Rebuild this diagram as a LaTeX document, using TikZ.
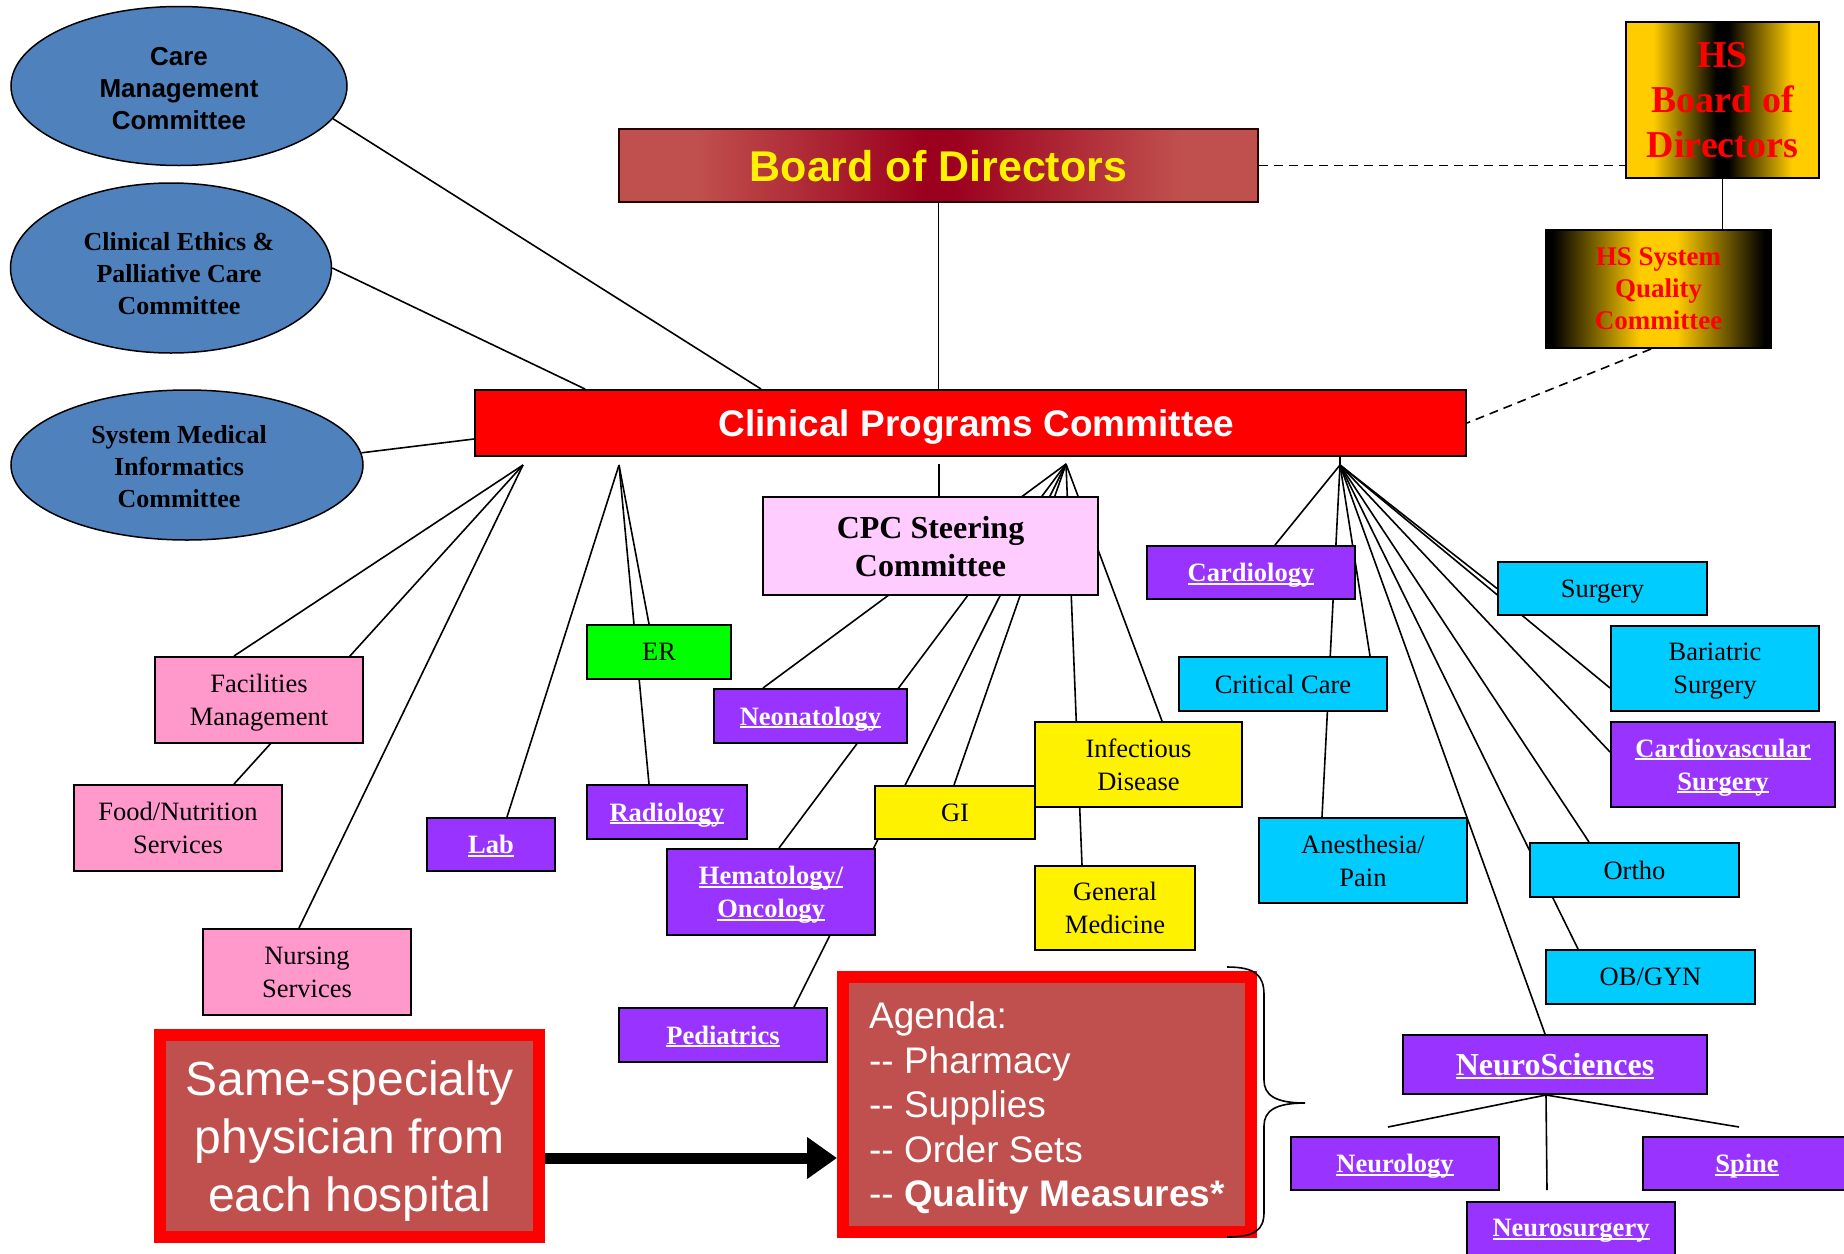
\documentclass[tikz,border=0pt]{standalone}
\usepackage{fontspec}
\setmainfont{Liberation Serif}
\newfontfamily\arialf{Liberation Sans}
\usetikzlibrary{arrows.meta,shapes.geometric,calc}
\pgfdeclarelayer{bg}
\pgfsetlayers{bg,main}
\definecolor{boardside}{HTML}{C0504D}
\definecolor{boardmid}{RGB}{155,0,30}
\definecolor{gold}{HTML}{FFCC00}
\definecolor{purp}{HTML}{9933FF}
\definecolor{cyanc}{HTML}{00CCFF}
\definecolor{pinkc}{HTML}{FF99CC}
\definecolor{stpink}{HTML}{FFCCFF}
\definecolor{ellblue}{HTML}{4F81BD}
\definecolor{agred}{HTML}{C0504D}
\definecolor{ergreen}{HTML}{00FF00}
\pgfdeclarehorizontalshading{boardshade}{100bp}{color(0bp)=(boardside); color(31bp)=(boardside); color(49bp)=(boardmid); color(51bp)=(boardmid); color(69bp)=(boardside); color(100bp)=(boardside)}
\pgfdeclarehorizontalshading{hsbshade}{100bp}{color(0bp)=(gold); color(32bp)=(gold); color(48.5bp)=(black); color(51.5bp)=(black); color(68bp)=(gold); color(100bp)=(gold)}
\pgfdeclarehorizontalshading{hsqshade}{100bp}{color(0bp)=(black); color(26.5bp)=(black); color(46bp)=(gold); color(54bp)=(gold); color(73.5bp)=(black); color(100bp)=(black)}
\newcommand{\myul}[1]{\setbox0\hbox{#1}\rlap{\rule[-3pt]{\wd0}{1.8pt}}\box0}
\begin{document}
\begin{tikzpicture}[x=1pt,y=-1pt,
  box/.style={draw=black, line width=2pt, inner sep=0pt, align=center, font=\fontsize{26.5}{33}\selectfont},
  purplebox/.style={box, fill=purp, text=white, font=\bfseries\fontsize{26.5}{33}\selectfont},
  cyanbox/.style={box, fill=cyanc},
  pinkbox/.style={box, fill=pinkc},
  yellowbox/.style={box, fill=yellow},
  link/.style={line width=1.6pt},
  dashlink/.style={line width=1.6pt, dash pattern=on 9pt off 6pt},
  ell/.style={ellipse, draw=black, line width=1.5pt, fill=ellblue, inner sep=0pt},
  elltext/.style={inner sep=0pt, align=center, font=\bfseries\fontsize{26}{32}\selectfont}]
\useasboundingbox (0,0) rectangle (1844,1253);

% ellipses
\node[ell, minimum width=336pt, minimum height=159pt] (care) at (179,86) {};
\node[elltext, font=\arialf\bfseries\fontsize{26}{32}\selectfont] (careT) at ([yshift=-2.4pt]care.center) {Care\\Management\\Committee};
\node[ell, minimum width=321pt, minimum height=170pt] (ethics) at (171,268) {};
\node[elltext] (ethicsT) at ([xshift=8pt,yshift=-6pt]ethics.center) {Clinical Ethics \&\\Palliative Care\\Committee};
\node[ell, minimum width=352pt, minimum height=150pt] (smi) at (187,465) {};
\node[elltext] (smiT) at ([xshift=-8pt,yshift=-1.2pt]smi.center) {System Medical\\Informatics\\Committee};

% top boxes
\node[draw=black!85!red, line width=1.5pt, inner sep=0pt, minimum width=639pt, minimum height=73pt, text=yellow, font=\arialf\bfseries\fontsize{43}{50}\selectfont, shading=boardshade, text depth=-5pt] (board) at (938.5,165.5) {Board of Directors};
\node[draw=black, line width=2pt, inner sep=0pt, align=center, minimum width=193pt, minimum height=156pt, text=red, font=\bfseries\fontsize{38}{45}\selectfont, shading=hsbshade, text depth=-6pt] (hsb) at (1722.5,100) {HS\\Board of\\Directors};
\node[draw=black, line width=2pt, inner sep=0pt, align=center, minimum width=225pt, minimum height=118pt, text=red, font=\bfseries\fontsize{27}{32}\selectfont, shading=hsqshade, text depth=-5pt] (hsq) at (1658.5,289) {HS System\\Quality\\Committee};
\node[draw=black, line width=2pt, fill=red, inner sep=0pt, minimum width=991pt, minimum height=66pt, text=white, font=\arialf\bfseries\fontsize{37}{44}\selectfont, text depth=-2pt] (cpc) at (970.5,423) {\hspace*{12pt}Clinical Programs Committee};
\node[box, fill=stpink, minimum width=335pt, minimum height=98pt, font=\bfseries\fontsize{32}{38}\selectfont, text depth=-3.5pt] (steer) at (930.5,546) {CPC Steering\\Committee};

% left group
\node[pinkbox, minimum width=208pt, minimum height=86pt, text depth=-3.6pt] (fac) at (259,700) {Facilities\\Management};
\node[pinkbox, minimum width=208pt, minimum height=86pt, text depth=-2.4pt] (food) at (178,828) {Food/Nutrition\\Services};
\node[pinkbox, minimum width=208pt, minimum height=86pt, text depth=-3.5pt] (nurs) at (307,972) {Nursing\\Services};
\node[purplebox, minimum width=128pt, minimum height=53pt, text depth=-1.8pt] (lab) at (491,844.5) {\myul{Lab}};
\node[box, fill=ergreen, minimum width=144pt, minimum height=54pt, text depth=-2.4pt] (er) at (659,652) {ER};
\node[purplebox, minimum width=160pt, minimum height=54pt, text depth=-3.6pt] (rad) at (667,812) {\myul{Radiology}};

% steering group
\node[purplebox, minimum width=193pt, minimum height=54pt, text depth=-1.2pt] (neo) at (810.5,716) {\myul{Neonatology}};
\node[purplebox, minimum width=208pt, minimum height=86pt, text depth=-2.4pt] (hem) at (771,892) {\myul{Hematology/}\\\myul{Oncology}};
\node[purplebox, minimum width=208pt, minimum height=54pt, text depth=-4pt] (ped) at (723,1035) {\myul{Pediatrics}};
\node[yellowbox, minimum width=160pt, minimum height=53pt, text depth=-2.4pt] (gi) at (955,812.5) {GI};
\node[yellowbox, minimum width=207pt, minimum height=85pt, text depth=-1.5pt] (id) at (1138.5,764.5) {Infectious\\Disease};
\node[yellowbox, minimum width=160pt, minimum height=84pt, text depth=-1.5pt] (gm) at (1115,908) {General\\Medicine};

% right group
\node[purplebox, minimum width=208pt, minimum height=53pt, text depth=-1.2pt] (card) at (1251,572.5) {\myul{Cardiology}};
\node[cyanbox, minimum width=208pt, minimum height=54pt, text depth=-2.4pt] (cc) at (1283,684) {Critical Care};
\node[cyanbox, minimum width=208pt, minimum height=85pt] (anes) at (1363,860.5) {Anesthesia/\\Pain};
\node[cyanbox, minimum width=209pt, minimum height=53pt, text depth=-3.6pt] (surg) at (1602.5,588.5) {Surgery};
\node[cyanbox, minimum width=208pt, minimum height=85pt, text depth=-3.6pt] (bar) at (1715,668.5) {Bariatric\\Surgery};
\node[purplebox, minimum width=224pt, minimum height=85pt, text depth=-1.2pt] (cv) at (1723,764.5) {\myul{Cardiovascular}\\\myul{Surgery}};
\node[cyanbox, minimum width=209pt, minimum height=54pt, text depth=-2.4pt] (ortho) at (1634.5,870) {Ortho};
\node[cyanbox, minimum width=209pt, minimum height=54pt, text depth=-2.4pt] (obgyn) at (1650.5,977) {OB/GYN};
\node[purplebox, minimum width=304pt, minimum height=59pt, font=\bfseries\fontsize{32}{38}\selectfont, text depth=-4pt] (neuro) at (1555,1064.5) {\myul{NeuroSciences}};
\node[purplebox, minimum width=208pt, minimum height=53pt, text depth=-3.6pt] (neurol) at (1395,1163.5) {\myul{Neurology}};
\node[purplebox, minimum width=208pt, minimum height=53pt, text depth=-3.6pt] (spine) at (1747,1163.5) {\myul{Spine}};
\node[purplebox, minimum width=208pt, minimum height=53pt, text depth=-3.6pt] (nsurg) at (1571,1228) {\myul{Neurosurgery}};

% bottom boxes
\node[draw=red, line width=12pt, fill=agred, inner sep=0pt, minimum width=379pt, minimum height=202pt, text=white, align=center, font=\arialf\fontsize{48}{58}\selectfont, text depth=-2.4pt] (same) at (349.5,1136) {Same-specialty\\physician from\\each hospital};
\node[draw=red, line width=12pt, fill=agred, inner sep=0pt, minimum width=408pt, minimum height=255pt, text=white, align=left, font=\arialf\fontsize{37}{44.5}\selectfont, text depth=-1.6pt] (agenda) at (1047,1104.5) {Agenda:\\-{}- Pharmacy\\-{}- Supplies\\-{}- Order Sets\\-{}- \textbf{Quality Measures*}};

% coordinates
\coordinate (A) at (523,465);
\coordinate (B) at (619,465);
\coordinate (S0) at (939,464);
\coordinate (C) at (1066,464);
\coordinate (D) at (1340,465);
\coordinate (N0) at ([xshift=144pt]neuro.south west);
\coordinate (nl) at (1388,1127);
\coordinate (nr) at (1739,1127);
\coordinate (nd) at (1547,1190);
\coordinate (ay) at (0,1158);

\begin{pgfonlayer}{bg}
\draw[link] (care.-12) -- ([xshift=287pt]cpc.north west);
\draw[link] (ethics.east) -- ([xshift=111pt]cpc.north west);
\draw[link] (smi.4) -- ([yshift=-16pt]cpc.west);
\draw[link] (board.south) -- (board.south |- cpc.north);
\draw[dashlink] (board.east) -- (board.east -| hsb.west);
\draw[link] (hsb.south) -- (hsb.south |- hsq.north);
\draw[dashlink] ([xshift=106pt]hsq.south west) -- (cpc.east);
% fan A
\draw[link] (A) -- ([xshift=80pt]fac.north west);
\draw[link] (A) -- ([xshift=161pt]food.north west);
\draw[link] (A) -- ([xshift=97pt]nurs.north west);
% fan B
\draw[link] (B) -- ([xshift=81pt]lab.north west);
\draw[link] (B) -- ([xshift=63pt]er.north west);
\draw[link] (B) -- ([xshift=63pt]rad.north west);
% steering
\draw[link] (S0) -- (S0 |- steer.north);
% fan C
\draw[link] (C) -- ([xshift=50pt]neo.north west);
\draw[link] (C) -- ([xshift=113pt]hem.north west);
\draw[link] (C) -- ([xshift=176pt]ped.north west);
\draw[link] (C) -- ([xshift=80pt]gi.north west);
\draw[link] (C) -- ([xshift=48pt]gm.north west);
\draw[link] (C) -- ([xshift=128pt]id.north west);
% fan D
\draw[link] (D |- cpc.south) -- (D);
\draw[link] (D) -- ([xshift=129pt]card.north west);
\draw[link] (D) -- ([xshift=64pt]anes.north west);
\draw[link] (D) -- ([xshift=192pt]cc.north west);
\draw[link] (D) -- (surg.west);
\draw[link] (D) -- ([yshift=-19.5pt]bar.west);
\draw[link] (D) -- ([yshift=12.5pt]cv.west);
\draw[link] (D) -- ([xshift=60pt]ortho.north west);
\draw[link] (D) -- ([xshift=33pt]obgyn.north west);
\draw[link] (D) -- ([xshift=143pt]neuro.north west);
% neuro children
\draw[link] (N0) -- (nl);
\draw[link] (N0) -- (nr);
\draw[link] (N0) -- (nd);
\end{pgfonlayer}

% arrow
\draw[line width=11pt, -{Triangle[length=30pt,width=40pt]}] (same.east |- ay) -- (agenda.west |- ay);

% brace
\draw[line width=1.6pt] (1227,967) .. controls (1255,967) and (1264,975) .. (1264,995) -- (1264,1080) .. controls (1264,1095) and (1275,1103) .. (1305,1103) .. controls (1275,1103) and (1264,1111) .. (1264,1126) -- (1264,1212) .. controls (1264,1230) and (1255,1237) .. (1227,1237);
\end{tikzpicture}
\end{document}
